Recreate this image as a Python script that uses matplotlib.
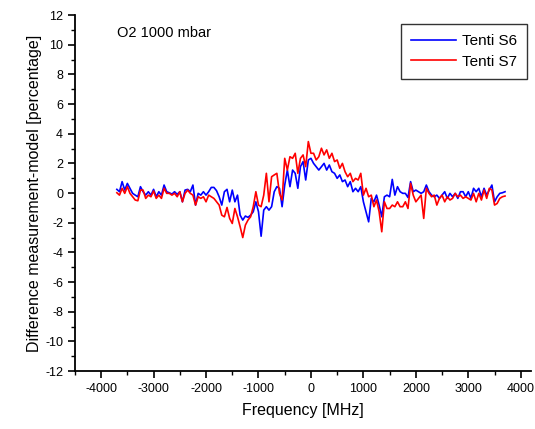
import numpy as np
import matplotlib
matplotlib.use("Agg")
from matplotlib import pyplot as plt
from matplotlib.ticker import MultipleLocator

plt.rcParams['font.family'] = ['Liberation Sans', 'DejaVu Sans']
plt.rcParams['axes.unicode_minus'] = False

# frequency grid [MHz]
freq = np.arange(-3700, 3701, 50)

# Tenti S6 (blue), difference in percent
tenti_s6 = [
    0.25, 0.09, 0.77, 0.20, 0.65, 0.32, -0.02, -0.14, -0.25, 0.43,
    0.09, -0.14, 0.09, -0.14, 0.25, -0.25, 0.09, -0.14, 0.54, 0.09,
    0.02, -0.07, 0.09, -0.09, 0.09, -0.59, 0.20, 0.25, 0.09, 0.54,
    -0.81, -0.02, -0.14, 0.09, -0.14, 0.09, 0.38, 0.38, 0.16, -0.25,
    -0.81, 0.09, 0.25, -0.59, 0.20, -0.59, -0.14, -1.49, -1.82, -1.55,
    -1.64, -1.49, -1.26, -0.59, -1.26, -2.91, -1.15, -0.92, -1.15, -0.92,
    0.09, 0.43, 0.32, -0.92, 0.54, 1.55, 0.43, 1.55, 1.33, 0.32,
    1.78, 2.12, 0.88, 2.23, 2.34, 2.00, 1.78, 1.55,
    1.78, 2.00, 1.55, 1.89, 1.44, 1.33, 0.99, 1.22, 0.77, 0.88,
    0.43, 0.77, 0.09, 0.32, 0.09, 0.43, -0.59, -1.26, -1.94, -0.36,
    -0.59, -0.14, -0.81, -1.60, -0.25, -0.14, -0.25, 0.92, -0.14, 0.43,
    0.09, -0.02, -0.02, -0.30, 0.77, 0.09, 0.20, 0.09, -0.02, 0.09,
    0.54, 0.09, -0.14, -0.25, -0.14, -0.36, -0.14, 0.09, -0.36, -0.02,
    -0.25, -0.02, -0.36, 0.09, 0.09, -0.25, 0.09, -0.36, 0.32, 0.09,
    0.32, -0.25, 0.32, -0.14, 0.20, 0.54, -0.59, -0.25, -0.02, 0.02,
    0.09,
]

# Tenti S7 (red)
tenti_s7 = [
    0.02, -0.14, 0.32, -0.02, 0.43, -0.02, -0.25, -0.47, -0.52, 0.20,
    0.20, -0.36, -0.14, -0.25, 0.14, -0.36, -0.14, -0.36, 0.32, -0.02,
    -0.02, -0.14, -0.02, -0.25, 0.09, -0.59, -0.02, 0.20, -0.02, -0.14,
    -0.81, -0.25, -0.36, -0.25, -0.59, -0.14, -0.25, -0.36, -0.59, -0.81,
    -1.49, -1.60, -0.97, -1.71, -2.05, -1.04, -1.60, -2.27, -3.00, -2.16,
    -1.82, -1.60, -0.92, 0.09, -0.81, -0.92, -0.14, 1.33, -0.59, 1.10,
    1.22, 1.33, -0.02, -0.47, 2.34, 1.55, 2.45, 2.34, 2.68, 1.33,
    2.34, 2.57, 1.78, 3.47, 2.68, 2.68, 2.23, 2.45,
    3.02, 2.57, 2.91, 2.34, 2.68, 2.12, 2.23, 1.67, 2.00, 1.44,
    1.10, 1.33, 0.77, 0.99, 0.88, 1.33, -0.14, 0.32, -0.25, -0.14,
    -0.92, -0.47, -1.26, -2.61, -0.59, -1.04, -1.04, -0.81, -0.92, -0.59,
    -0.92, -0.92, -0.59, -1.04, 0.65, -0.14, -0.59, -0.36, -0.14, -1.71,
    0.32, -0.02, -0.25, -0.14, -0.81, -0.36, -0.14, -0.59, -0.25, -0.47,
    -0.36, -0.02, -0.25, -0.14, -0.36, -0.25, -0.36, -0.47, -0.02, -0.59,
    -0.02, -0.47, 0.20, -0.36, 0.32, 0.20, -0.81, -0.70, -0.36, -0.25,
    -0.20,
]

fig = plt.figure(figsize=(5.35, 4.29), dpi=100)
ax = fig.add_axes([0.140, 0.135, 0.853, 0.830])

ax.plot(freq, tenti_s6, color='#0000ff', linewidth=1.2, label='Tenti S6')
ax.plot(freq, tenti_s7, color='#ff0000', linewidth=1.2, label='Tenti S7')

ax.set_xlim(-4500, 4200)
ax.set_ylim(-12, 12)
ax.xaxis.set_major_locator(MultipleLocator(1000))
ax.xaxis.set_minor_locator(MultipleLocator(500))
ax.yaxis.set_major_locator(MultipleLocator(2))
ax.yaxis.set_minor_locator(MultipleLocator(1))

ax.spines['top'].set_visible(False)
ax.spines['right'].set_visible(False)
ax.spines['left'].set_linewidth(1.3)
ax.spines['bottom'].set_linewidth(1.3)
ax.tick_params(which='major', direction='out', length=5, width=1.2, labelsize=9)
ax.tick_params(which='minor', direction='out', length=3, width=1.0)

ax.set_xlabel('Frequency [MHz]', fontsize=11.5, labelpad=6)
ax.set_ylabel('Difference measurement-model [percentage]', fontsize=11.5, labelpad=2)

ax.text(-3700, 10.5, 'O2 1000 mbar', fontsize=10.5)

leg = ax.legend(loc='upper right', bbox_to_anchor=(0.99, 0.975), fontsize=11,
                handlelength=2.9, frameon=True, fancybox=False, borderaxespad=0,
                borderpad=0.65, labelspacing=0.45, handletextpad=0.4)
leg.get_frame().set_edgecolor('black')
leg.get_frame().set_linewidth(1.0)

fig.savefig('out.png', dpi=100)
